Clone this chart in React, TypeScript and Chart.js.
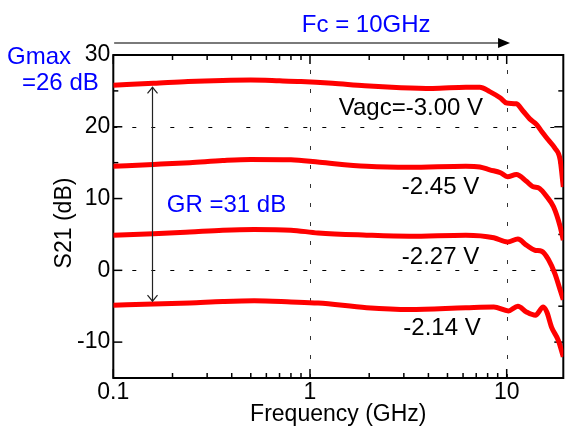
import React, { useEffect, useRef } from "react";
import { Chart, registerables } from "chart.js";
Chart.register(...registerables);

// ---- data (frequency in GHz, S21 in dB) ----
const freq300 = [0.1, 0.16, 0.24, 0.36, 0.5, 0.7, 0.9, 1.3, 1.9, 2.9, 4.2, 6.2, 7.3, 8.2, 9.3, 10, 11.2, 12.1, 13.1, 14.2, 15.1, 16.3, 17.6, 18.7, 19.4];
const s21_300 = [25.8, 26.05, 26.3, 26.45, 26.5, 26.4, 26.3, 26.05, 25.7, 25.45, 25.35, 25.5, 25.5, 24.9, 24.0, 23.3, 23.2, 22.2, 21.1, 20.3, 19.3, 18.15, 17.0, 15.4, 11.6];

const freq245 = [0.1, 0.16, 0.245, 0.36, 0.5, 0.8, 1.12, 1.94, 3.2, 6.2, 7.3, 8.2, 9.3, 10.1, 11.2, 12.6, 13.5, 14.7, 16.0, 17.3, 18.7, 19.4];
const s21_245 = [14.5, 14.75, 15.0, 15.3, 15.45, 15.4, 15.05, 14.5, 14.35, 14.5, 14.4, 14.0, 13.6, 13.05, 13.35, 12.4, 11.7, 11.4, 10.25, 8.85, 6.1, 4.2];

const freq227 = [0.1, 0.16, 0.245, 0.36, 0.52, 0.8, 1.1, 1.94, 3.2, 6.2, 8.6, 10.1, 11.4, 12.6, 13.9, 15.1, 16.3, 17.6, 18.7, 19.4];
const s21_227 = [4.9, 5.1, 5.35, 5.6, 5.7, 5.6, 5.2, 4.9, 4.75, 4.9, 4.55, 3.95, 4.35, 3.5, 2.8, 2.65, 1.5, -0.5, -2.75, -4.1];

const freq214 = [0.1, 0.16, 0.245, 0.36, 0.52, 0.8, 1.1, 1.94, 3.2, 6.2, 8.6, 10.2, 11.4, 12.6, 14.0, 15.35, 16.0, 16.9, 18.3, 19.4];
const s21_214 = [-4.85, -4.7, -4.55, -4.35, -4.25, -4.4, -4.55, -5.2, -5.45, -5.2, -5.1, -5.65, -5.0, -5.8, -6.25, -5.1, -5.8, -7.9, -9.75, -12.05];

const xTickValues = [0.1, 1, 10];
const xMinorTicks = [0.2, 0.3, 0.4, 0.5, 0.6, 0.7, 0.8, 0.9, 2, 3, 4, 5, 6, 7, 8, 9];
const yTickValues = [-10, 0, 10, 20, 30];
const yMinorTicks = [-5, 5, 15, 25];
const xGridValues = [1, 10];
const yGridValues = [0, 20];

const FONT = '"Liberation Sans", Arial, Helvetica, sans-serif';

const decorPlugin = {
  id: "decor",
  beforeDatasetsDraw(chart: any) {
    const { ctx, chartArea: a, scales } = chart;
    const xs = scales.x, ys = scales.y;
    ctx.save();
    // dashed grid
    ctx.setLineDash([4, 15]);
    ctx.lineWidth = 1;
    ctx.strokeStyle = "#333";
    xGridValues.forEach((v) => {
      const px = Math.round(xs.getPixelForValue(v)) + 0.5;
      ctx.beginPath(); ctx.moveTo(px, a.bottom); ctx.lineTo(px, a.top); ctx.stroke();
    });
    ctx.strokeStyle = "#000";
    yGridValues.forEach((v) => {
      const py = Math.round(ys.getPixelForValue(v)) + 0.5;
      ctx.beginPath(); ctx.moveTo(a.left, py); ctx.lineTo(a.right, py); ctx.stroke();
    });
    ctx.setLineDash([]);
    // inward ticks
    ctx.strokeStyle = "#000";
    ctx.lineWidth = 1.5;
    const tick = (x1: number, y1: number, x2: number, y2: number) => {
      ctx.beginPath(); ctx.moveTo(x1, y1); ctx.lineTo(x2, y2); ctx.stroke();
    };
    xTickValues.forEach((v) => {
      const px = xs.getPixelForValue(v);
      tick(px, a.bottom, px, a.bottom - 9);
      tick(px, a.top, px, a.top + 9);
    });
    xMinorTicks.forEach((v) => {
      const px = xs.getPixelForValue(v);
      tick(px, a.bottom, px, a.bottom - 5);
      tick(px, a.top, px, a.top + 5);
    });
    yTickValues.forEach((v) => {
      const py = ys.getPixelForValue(v);
      tick(a.left, py, a.left + 9, py);
      tick(a.right, py, a.right - 9, py);
    });
    yMinorTicks.forEach((v) => {
      const py = ys.getPixelForValue(v);
      tick(a.left, py, a.left + 5, py);
      tick(a.right, py, a.right - 5, py);
    });
    // box
    ctx.lineWidth = 2;
    ctx.strokeRect(a.left, a.top, a.right - a.left, a.bottom - a.top);
    ctx.restore();
  },
  afterDatasetsDraw(chart: any) {
    const { ctx, scales } = chart;
    const xs = scales.x, ys = scales.y;
    ctx.save();
    // double arrow (gain range)
    const ax = Math.round(xs.getPixelForValue(0.158)) + 0.5;
    const aTop = ys.getPixelForValue(25.5);
    const aBot = ys.getPixelForValue(-4.3);
    ctx.strokeStyle = "#222";
    ctx.lineWidth = 1.2;
    ctx.beginPath(); ctx.moveTo(ax, aTop); ctx.lineTo(ax, aBot); ctx.stroke();
    ctx.beginPath();
    ctx.moveTo(ax - 5, aTop + 6); ctx.lineTo(ax, aTop); ctx.lineTo(ax + 5, aTop + 6);
    ctx.moveTo(ax - 5, aBot - 6); ctx.lineTo(ax, aBot); ctx.lineTo(ax + 5, aBot - 6);
    ctx.stroke();
    // Fc arrow on top
    const fx0 = xs.getPixelForValue(0.101);
    const fx1 = xs.getPixelForValue(10.4);
    const fy = 43;
    ctx.strokeStyle = "#7a7a7a";
    ctx.lineWidth = 2;
    ctx.beginPath(); ctx.moveTo(fx0, fy); ctx.lineTo(fx1 - 10, fy); ctx.stroke();
    ctx.fillStyle = "#000";
    ctx.beginPath(); ctx.moveTo(fx1, fy); ctx.lineTo(fx1 - 12, fy - 5); ctx.lineTo(fx1 - 12, fy + 5); ctx.closePath(); ctx.fill();

    // texts
    ctx.font = `24px ${FONT}`;
    ctx.textBaseline = "middle";
    ctx.textAlign = "center";
    ctx.fillStyle = "#0000ff";
    ctx.fillText("Fc = 10GHz", xs.getPixelForValue(1.93), 25);
    ctx.fillText("GR =31 dB", xs.getPixelForValue(0.376), ys.getPixelForValue(9.09));
    ctx.textAlign = "left";
    ctx.fillText("Gmax", 7, 57);
    ctx.fillText("=26 dB", 22, 83);
    ctx.fillStyle = "#000";
    ctx.textAlign = "center";
    ctx.fillText("Vagc=-3.00 V", xs.getPixelForValue(3.26), ys.getPixelForValue(22.6));
    ctx.fillText("-2.45 V", xs.getPixelForValue(4.61), ys.getPixelForValue(11.6));
    ctx.fillText("-2.27 V", xs.getPixelForValue(4.61), ys.getPixelForValue(1.84));
    ctx.fillText("-2.14 V", xs.getPixelForValue(4.69), ys.getPixelForValue(-8.06));
    // y title
    ctx.font = `23px ${FONT}`;
    ctx.translate(65, 223);
    ctx.rotate(-Math.PI / 2);
    ctx.fillText("S21 (dB)", 0, 0);
    ctx.restore();
  },
};

const mk = (f: number[], v: number[]) => f.map((x, i) => ({ x, y: v[i] }));

export default function App() {
  const ref = useRef<HTMLCanvasElement | null>(null);
  useEffect(() => {
    document.body.style.margin = "0";
    const canvas = ref.current!;
    const ds = (data: any) => ({
      data,
      borderColor: "#ff0000",
      borderWidth: 5,
      pointRadius: 0,
      cubicInterpolationMode: "monotone",
      tension: 0.4,
      fill: false,
    });
    const chart = new Chart(canvas, {
      type: "line",
      data: {
        datasets: [ds(mk(freq300, s21_300)), ds(mk(freq245, s21_245)), ds(mk(freq227, s21_227)), ds(mk(freq214, s21_214))],
      },
      options: {
        animation: false,
        responsive: false,
        devicePixelRatio: 1,
        layout: { padding: { top: 55, right: 1.7, left: 0, bottom: 0 } },
        plugins: { legend: { display: false }, tooltip: { enabled: false } },
        scales: {
          x: {
            type: "logarithmic",
            min: 0.1,
            max: 19.4,
            afterBuildTicks: (s: any) => { s.ticks = xTickValues.map((value) => ({ value })); },
            afterFit: (s: any) => { s.height = 50; },
            grid: { display: false, drawTicks: false },
            border: { display: false },
            ticks: {
              autoSkip: false,
              maxRotation: 0,
              padding: 1,
              color: "#000",
              font: { family: FONT, size: 23 },
              callback: (v: any) => String(v),
            },
            title: {
              display: true,
              text: "Frequency (GHz)",
              color: "#000",
              font: { family: FONT, size: 23 },
              padding: 0,
            },
          },
          y: {
            type: "linear",
            min: -15,
            max: 30,
            afterBuildTicks: (s: any) => { s.ticks = yTickValues.map((value) => ({ value })); },
            afterFit: (s: any) => { s.width = 113.3; },
            grid: { display: false, drawTicks: false },
            border: { display: false },
            ticks: {
              padding: 3,
              color: "#000",
              font: { family: FONT, size: 23 },
              callback: (v: any) => String(v),
            },
          },
        },
      },
      plugins: [decorPlugin],
    } as any);
    return () => chart.destroy();
  }, []);
  return <canvas ref={ref} width={565} height={428} style={{ display: "block", width: 565, height: 428 }} />;
}
